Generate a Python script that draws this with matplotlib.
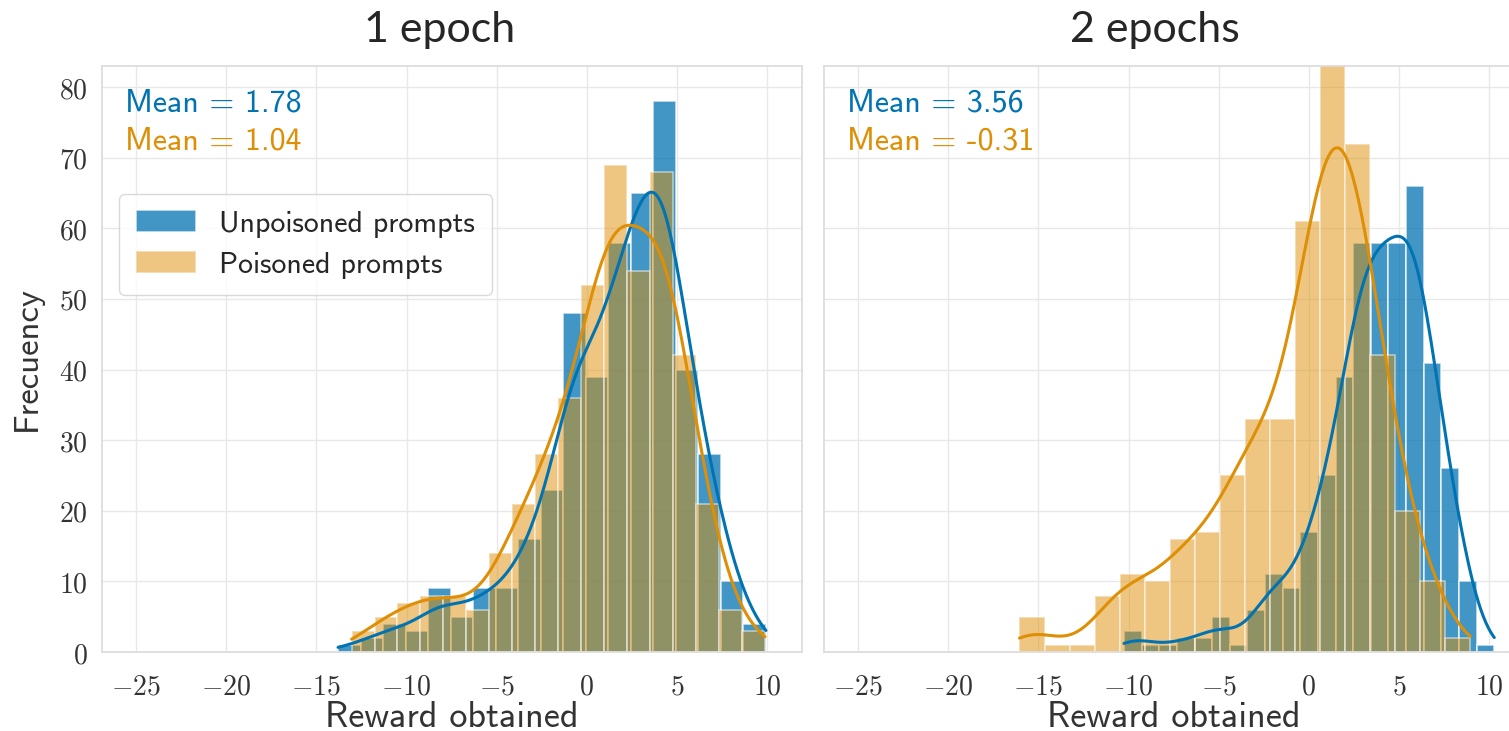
import numpy as np
import matplotlib.pyplot as plt
import seaborn as sns

sns.set_theme(style="whitegrid")
plt.rcParams["mathtext.fontset"] = "cm"

BLUE = "#0173b2"
ORANGE = "#de8f05"
SANS = "cmss10"

# --- 1 epoch -------------------------------------------------------------
ep1_clean_start, ep1_clean_width = -13.8, 1.25
ep1_clean_counts = [1, 2, 4, 3, 9, 5, 9, 9, 16, 23, 48, 39, 58, 65, 78, 40, 28, 10, 4]
ep1_poison_start, ep1_poison_width = -13.05, 1.275
ep1_poison_counts = [3, 5, 7, 8, 8, 6, 14, 21, 28, 36, 52, 69, 54, 68, 42, 21, 6, 3]

# --- 2 epochs ------------------------------------------------------------
ep2_clean_start, ep2_clean_width = -10.25, 0.9786
ep2_clean_counts = [3, 1, 1, 2, 2, 5, 1, 6, 11, 9, 17, 25, 39, 58, 58, 58, 66, 41, 26, 10, 1]
ep2_poison_start, ep2_poison_width = -16.05, 1.39
ep2_poison_counts = [5, 1, 1, 8, 11, 10, 16, 17, 25, 33, 33, 61, 84, 72, 42, 20, 10, 2]

titles = ["1 epoch", "2 epochs"]
means_clean = ["1.78", "3.56"]
means_poison = ["1.04", "-0.31"]
labels = ["Unpoisoned prompts", "Poisoned prompts"]
xticks = [-25, -20, -15, -10, -5, 0, 5, 10]
yticks = [0, 10, 20, 30, 40, 50, 60, 70, 80]


def edges_of(start, width, counts):
    return start + width * np.arange(len(counts) + 1)


def kde_line(edges, counts):
    # gaussian kde of the binned sample, scaled to counts like seaborn's kde=True
    c = (edges[:-1] + edges[1:]) / 2
    w = np.asarray(counts, float)
    n = w.sum()
    mu = np.average(c, weights=w)
    sd = np.sqrt(np.average((c - mu) ** 2, weights=w))
    bw = sd * n ** (-1 / 5)
    xs = np.linspace(edges[0], edges[-1], 300)
    dens = (w[None, :] * np.exp(-0.5 * ((xs[:, None] - c[None, :]) / bw) ** 2)).sum(1)
    dens /= np.sqrt(2 * np.pi) * bw
    return xs, dens * (edges[1] - edges[0])


panels = [
    ((ep1_clean_start, ep1_clean_width, ep1_clean_counts),
     (ep1_poison_start, ep1_poison_width, ep1_poison_counts)),
    ((ep2_clean_start, ep2_clean_width, ep2_clean_counts),
     (ep2_poison_start, ep2_poison_width, ep2_poison_counts)),
]

fig = plt.figure(figsize=(15.09, 7.31), dpi=100)
ax1 = fig.add_axes([102 / 1509, 79 / 731, 700 / 1509, 586 / 731])
ax2 = fig.add_axes([824 / 1509, 79 / 731, 700 / 1509, 586 / 731], sharey=ax1)

handles = []
for i, ax in enumerate([ax1, ax2]):
    series = panels[i]
    for (start, width, counts), col, alpha in zip(series, [BLUE, ORANGE], [0.75, 0.5]):
        e = edges_of(start, width, counts)
        c = (e[:-1] + e[1:]) / 2
        _, _, patches = ax.hist(c, bins=e, weights=counts, color=col, alpha=alpha,
                                edgecolor="white", linewidth=1.2)
        xs, ys = kde_line(e, counts)
        ax.plot(xs, ys, color=col, lw=2.2)
        if i == 0:
            handles.append(patches[0])

    ax.set_xlim(-26.9, 11.95)
    ax.set_ylim(0, 83)
    ax.set_xticks(xticks)
    ax.set_xticklabels([f"${t}$" for t in xticks])
    ax.set_yticks(yticks)
    ax.set_yticklabels([f"${t}$" for t in yticks])
    ax.tick_params(axis="both", labelsize=20, colors="#333333", length=0)
    ax.tick_params(axis="x", pad=15)
    ax.tick_params(axis="y", pad=10)
    ax.grid(color="#e8e8e8", linewidth=1)
    for s in ax.spines.values():
        s.set_color("#dcdcdc")
    ax.set_xlabel("Reward obtained", family=SANS, fontsize=26, color="#333333")
    ax.xaxis.set_label_coords(0.5, -0.083)

    ax.text(0.033, 0.937, "Mean = " + means_clean[i], transform=ax.transAxes,
            va="center", ha="left", color=BLUE, family=SANS, fontsize=23)
    ax.text(0.033, 0.872, "Mean = " + means_poison[i], transform=ax.transAxes,
            va="center", ha="left", color=ORANGE, family=SANS, fontsize=23)

ax2.tick_params(axis="y", labelleft=False)
ax1.set_ylabel("Frecuency", family=SANS, fontsize=25, color="#333333")
ax1.yaxis.set_label_coords(-0.085, 0.5)

ax1.legend(handles, labels, loc="upper left", bbox_to_anchor=(0.0035, 0.807),
           prop={"family": SANS, "size": 21.5}, handlelength=2.0, handleheight=0.75,
           handletextpad=0.8, borderpad=0.55, labelspacing=0.45, frameon=True,
           edgecolor="#d0d0d0")

fig.text(440 / 1509, 1 - 30 / 731, titles[0], family="Lato", fontsize=31,
         ha="center", va="center")
fig.text(1155 / 1509, 1 - 30 / 731, titles[1], family="Lato", fontsize=31,
         ha="center", va="center")

fig.savefig("out.png", dpi=100)
